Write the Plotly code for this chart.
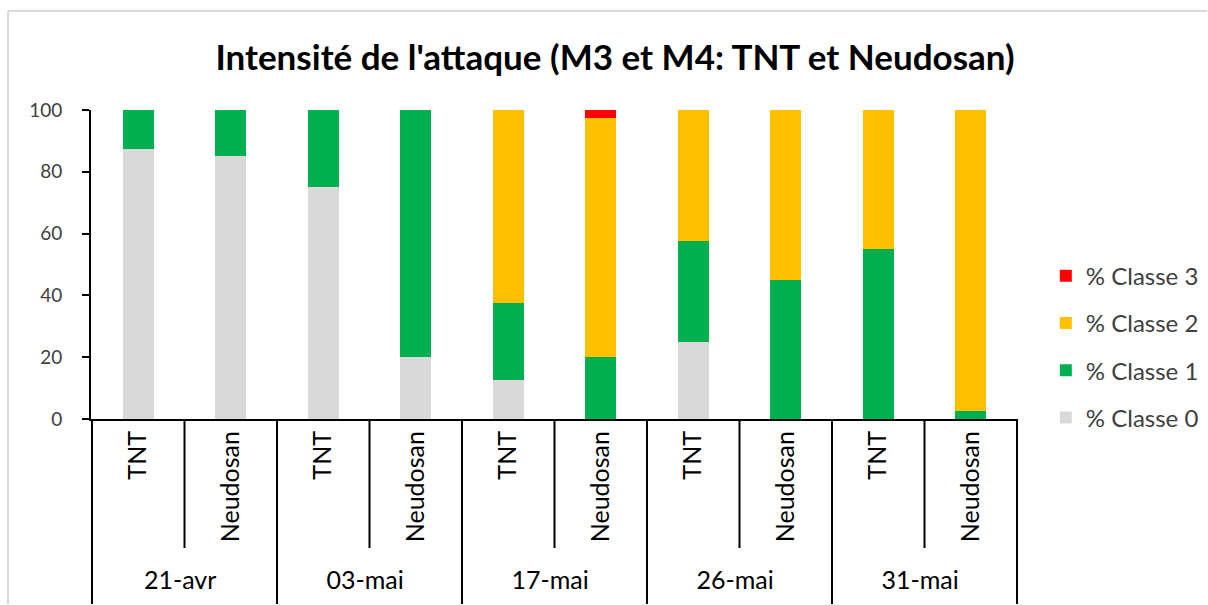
import plotly.graph_objects as go

dates = ["21-avr", "21-avr", "03-mai", "03-mai", "17-mai", "17-mai", "26-mai", "26-mai", "31-mai", "31-mai"]
products = ["TNT", "Neudosan"] * 5

classe0 = [87.5, 85, 75, 20, 12.5, 0, 25, 0, 0, 0]
classe1 = [12.5, 15, 25, 80, 25, 20, 32.5, 45, 55, 2.5]
classe2 = [0, 0, 0, 0, 62.5, 77.5, 42.5, 55, 45, 97.5]
classe3 = [0, 0, 0, 0, 0, 2.5, 0, 0, 0, 0]

series = [
    ("% Classe 0", classe0, "#D9D9D9"),
    ("% Classe 1", classe1, "#00B050"),
    ("% Classe 2", classe2, "#FFC000"),
    ("% Classe 3", classe3, "#FF0000"),
]

FONT = "Lato, Calibri, Carlito, sans-serif"

W, H = 1208, 605
ML, MT, MR, MB = 91, 110, 190, 186
PW = W - ML - MR
PH = H - MT - MB

fig = go.Figure()
n = len(series)
for i, (name, vals, col) in enumerate(series):
    fig.add_trace(go.Bar(
        x=[dates, products], y=vals, name=name, legendgroup=name,
        legendrank=n - i,
        marker=dict(color=col, line=dict(width=0)),
    ))

shapes = []
# inner dividers between TNT and Neudosan, outer dividers down to the bottom
for i in range(5):
    xb = 2 * i + 0.5
    shapes.append(dict(type="line", xref="x", yref="paper", x0=xb, x1=xb,
                       y0=0, y1=-(548 - 419) / PH,
                       line=dict(color="black", width=2)))
for i in range(6):
    xb = 2 * i - 0.5
    shapes.append(dict(type="line", xref="x", yref="paper", x0=xb, x1=xb,
                       y0=0, y1=-(MB - 1) / PH,
                       line=dict(color="black", width=2)))
# outer light-gray chart border (top and left edges)
top_y = (H - MB - 11) / PH
left_x = (8 - ML) / PW
shapes.append(dict(type="line", xref="paper", yref="paper",
                   x0=left_x, x1=(1207 - ML) / PW, y0=top_y, y1=top_y,
                   line=dict(color="#D9D9D9", width=2), layer="below"))
shapes.append(dict(type="line", xref="paper", yref="paper",
                   x0=left_x, x1=left_x, y0=top_y, y1=-(MB - 1) / PH,
                   line=dict(color="#D9D9D9", width=2), layer="below"))

fig.update_layout(
    width=W, height=H,
    barmode="stack", bargap=0.67,
    plot_bgcolor="white", paper_bgcolor="white",
    margin=dict(l=ML, r=MR, t=MT, b=MB, autoexpand=False),
    font=dict(family=FONT, size=18, color="#000000"),
    title=dict(text="<b>Intensité de l'attaque (M3 et M4: TNT et Neudosan)</b>",
               x=615 / W, xanchor="center", y=1 - 58 / H, yanchor="middle",
               font=dict(family=FONT, size=35, color="#000000")),
    legend=dict(x=1.03, xanchor="left", y=0.535, yanchor="top",
                traceorder="grouped", tracegroupgap=13,
                font=dict(family=FONT, size=24, color="#404040")),
    showlegend=True,
    shapes=shapes,
)
fig.update_yaxes(range=[0, 100], dtick=20, showgrid=False, zeroline=False,
                 showline=True, linecolor="black", linewidth=2,
                 ticks="outside", ticklen=7, tickwidth=2, tickcolor="black",
                 ticklabelstandoff=16,
                 tickfont=dict(family=FONT, size=19, color="#404040"))
fig.update_xaxes(type="multicategory", showline=True, linecolor="black", linewidth=2,
                 ticks="", tickangle=-90, showdividers=True,
                 dividercolor="black", dividerwidth=2,
                 tickfont=dict(family=FONT, size=25, color="#000000"))

fig.write_html("out.html", config={"displayModeBar": False},
               post_script="document.body.style.margin='0';document.body.style.overflow='hidden';")
